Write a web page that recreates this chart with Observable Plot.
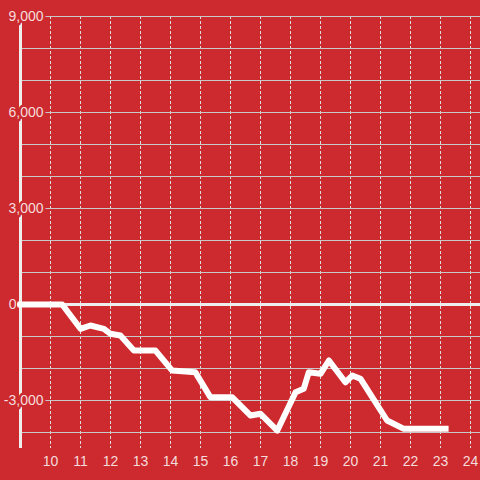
<!DOCTYPE html>
<html>
<head>
<meta charset="utf-8">
<script src="https://cdn.jsdelivr.net/npm/d3@7"></script>
<script src="https://cdn.jsdelivr.net/npm/@observablehq/plot@0.6"></script>
<style>
  html, body { margin: 0; padding: 0; background: #cc2a2f; }
  #chart { width: 480px; height: 480px; }
</style>
</head>
<body>
<div id="chart"></div>
<script>
const hours = [9, 10.39, 11.0, 11.33, 11.78, 12.0, 12.33, 12.78, 13.5, 14.05, 14.83, 15.33, 16.06, 16.67, 17.0, 17.56, 18.17, 18.44, 18.61, 19.0, 19.28, 19.83, 20.06, 20.33, 21.22, 21.78, 23.17];
const values = [0, 0, -760, -656, -760, -916, -970, -1440, -1440, -2060, -2120, -2900, -2900, -3470, -3415, -3940, -2740, -2635, -2115, -2165, -1750, -2430, -2220, -2320, -3625, -3885, -3885];
const xTicks = [10, 11, 12, 13, 14, 15, 16, 17, 18, 19, 20, 21, 22, 23, 24];
const yGrid = [-4000, -3000, -2000, -1000, 1000, 2000, 3000, 4000, 5000, 6000, 7000, 8000, 9000];
const yLabels = [-3000, 3000, 6000, 9000];
const zeroLabel = [0];

const series = hours.map((h, i) => ({hour: h, value: values[i]}));
const fmt = d => d.toLocaleString("en-US");
const red = "#cc2a2f";
const textColor = "#f5dcdc";

const chart = Plot.plot({
  width: 480,
  height: 480,
  marginTop: 16,
  marginBottom: 32,
  marginLeft: 20,
  marginRight: 0,
  style: {background: red, fontFamily: "'Liberation Sans', Arial, sans-serif"},
  x: {domain: [9, 24.3333], axis: null},
  y: {domain: [-4500, 9000], axis: null},
  marks: [
    Plot.ruleX(xTicks, {x: d => d, stroke: "#dddddd", strokeWidth: 1, strokeDasharray: "3,2"}),
    Plot.ruleY(yGrid, {y: d => d, stroke: "#c8c8c8", strokeWidth: 1}),
    Plot.ruleX([9], {x: d => d, stroke: "#eeeeee", strokeWidth: 3}),
    Plot.text(yLabels, {x: 9, y: d => d, text: d => fmt(d), textAnchor: "end", dx: 23, fontSize: 14, fill: textColor, stroke: red, strokeWidth: 5, paintOrder: "stroke"}),
    Plot.ruleY(zeroLabel, {y: d => d, x1: 8.9, x2: 24.3333, stroke: "#eeeeee", strokeWidth: 3}),
    Plot.text(zeroLabel, {x: 9, y: d => d, text: d => fmt(d), textAnchor: "end", dx: -4, fontSize: 14, fill: textColor}),
    Plot.line(series, {x: "hour", y: "value", stroke: "#ffffff", strokeWidth: 6, strokeLinejoin: "round", strokeLinecap: "square"}),
    Plot.text(xTicks, {x: d => d, y: -4500, text: d => String(d), dy: 13, fontSize: 14, fill: textColor, lineAnchor: "middle"})
  ]
});
document.getElementById("chart").appendChild(chart);
</script>
</body>
</html>
